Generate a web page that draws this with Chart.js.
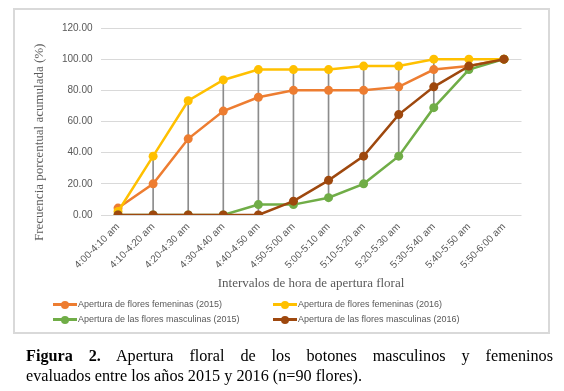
<!DOCTYPE html>
<html>
<head>
<meta charset="utf-8">
<script src="https://cdn.jsdelivr.net/npm/chart.js@4.4.0/dist/chart.umd.min.js"></script>
<style>
  html, body { margin:0; padding:0; background:#fff; }
  body { width:564px; height:391px; position:relative; overflow:hidden; }
  #frame { position:absolute; left:13px; top:8px; width:533px; height:322px; border:2px solid #d9d9d9; box-sizing:content-box; }
  #c { position:absolute; left:0; top:0; }
  #ytitle { position:absolute; left:31px; top:32px; width:16px; height:220px; writing-mode:vertical-rl; transform:rotate(180deg); text-align:center; white-space:nowrap; font-family:"Liberation Serif", "Times New Roman", serif; font-size:13px; font-weight:normal; color:#595959; line-height:16px; }
  .leg { position:absolute; font-family:"Liberation Sans", Arial, sans-serif; font-size:9px; color:#595959; white-space:nowrap; display:flex; align-items:center; height:12px; }
  .leg .mk { position:relative; width:24px; height:12px; margin-right:1px; }
  .leg .mk .ln { position:absolute; left:0; right:0; top:5px; height:2.5px; }
  .leg .mk .dt { position:absolute; left:8px; top:2.5px; width:8px; height:8px; border-radius:50%; }
  .cap { position:absolute; left:26px; width:527px; font-family:"Liberation Serif", "Times New Roman", serif; font-size:16.2px; line-height:20px; color:#000; white-space:nowrap; }
  #cap1 { top:346px; text-align:justify; text-align-last:justify; white-space:normal; }
  #cap2 { top:366px; text-align:left; }
</style>
</head>
<body>
<div id="frame"></div>
<canvas id="c" width="564" height="391"></canvas>
<div id="ytitle">Frecuencia porcentual acumulada (%)</div>
<div id="legend"></div>
<div class="cap" id="cap1"><b>Figura 2.</b> Apertura floral de los botones masculinos y femeninos</div>
<div class="cap" id="cap2">evaluados entre los años 2015 y 2016 (n=90 flores).</div>
<script>
const categories = ["4:00-4:10 am","4:10-4:20 am","4:20-4:30 am","4:30-4:40 am","4:40-4:50 am","4:50-5:00 am","5:00-5:10 am","5:10-5:20 am","5:20-5:30 am","5:30-5:40 am","5:40-5:50 am","5:50-6:00 am"];
const femeninas2015 = [4.44, 20.00, 48.89, 66.67, 75.56, 80.00, 80.00, 80.00, 82.22, 93.33, 95.56, 100.00];
const femeninas2016 = [2.22, 37.78, 73.33, 86.67, 93.33, 93.33, 93.33, 95.56, 95.56, 100.00, 100.00, 100.00];
const masculinas2015 = [0.00, 0.00, 0.00, 0.00, 6.67, 6.67, 11.11, 20.00, 37.78, 68.89, 93.33, 100.00];
const masculinas2016 = [0.00, 0.00, 0.00, 0.00, 0.00, 8.89, 22.22, 37.78, 64.44, 82.22, 95.56, 100.00];
const seriesNames = ["Apertura de flores femeninas (2015)", "Apertura de flores femeninas (2016)", "Apertura de las flores masculinas (2015)", "Apertura de las flores masculinas (2016)"];
const seriesColors = ["#ED7D31", "#FFC000", "#70AD47", "#9E480E"];
const yTicks = [0, 20, 40, 60, 80, 100, 120];

const allSeries = [femeninas2015, femeninas2016, masculinas2015, masculinas2016];
const hiLow = categories.map((_, i) => {
  const vals = allSeries.map(s => s[i]);
  return [Math.min(...vals), Math.max(...vals)];
});

const lineDs = allSeries.map((d, k) => ({
  type: 'line',
  label: seriesNames[k],
  data: d,
  borderColor: seriesColors[k],
  backgroundColor: seriesColors[k],
  pointBackgroundColor: seriesColors[k],
  pointBorderColor: seriesColors[k],
  borderWidth: 2.5,
  pointRadius: 4.5,
  pointBorderWidth: 0,
  tension: 0,
  order: 4 - k
}));

const serif = '"Liberation Serif", "Times New Roman", serif';
const sans = '"Liberation Sans", Arial, sans-serif';

new Chart(document.getElementById('c'), {
  data: {
    labels: categories,
    datasets: [
      { type: 'bar', label: 'hl', data: hiLow, backgroundColor: '#8c8c8c', barThickness: 1, order: 10 },
      ...lineDs
    ]
  },
  options: {
    responsive: false,
    animation: false,
    devicePixelRatio: 1,
    layout: { padding: { left: 26, right: 42.5, top: 28, bottom: 96 } },
    plugins: { legend: { display: false }, tooltip: { enabled: false } },
    scales: {
      x: {
        type: 'category',
        offset: true,
        grid: { display: false, drawTicks: false },
        border: { display: false },
        ticks: { autoSkip: false, maxRotation: 45, minRotation: 45, padding: 6, color: '#595959', font: { family: sans, size: 10 } },
        title: { display: true, text: 'Intervalos de hora de apertura floral', color: '#595959', font: { family: serif, size: 13 }, padding: { top: 4, bottom: 4 } },
        afterFit: (s) => { s.height = 80; }
      },
      y: {
        min: 0, max: 120,
        afterBuildTicks: (s) => { s.ticks = yTicks.map(v => ({ value: v })); },
        grid: { color: '#d9d9d9', lineWidth: 1, drawTicks: false },
        border: { display: false },
        ticks: { padding: 8, color: '#595959', font: { family: sans, size: 10 }, callback: (v) => Number(v).toFixed(2) },
        title: { display: false },
        afterFit: (s) => { s.width = 74.5; }
      }
    }
  }
});

// HTML legend
const legPos = [[53, 298], [273, 298], [53, 313], [273, 313]];
const legend = document.getElementById('legend');
seriesNames.forEach((n, k) => {
  const el = document.createElement('div');
  el.className = 'leg';
  el.style.left = legPos[k][0] + 'px';
  el.style.top = legPos[k][1] + 'px';
  el.innerHTML = '<div class="mk"><div class="ln" style="background:' + seriesColors[k] + '"></div><div class="dt" style="background:' + seriesColors[k] + '"></div></div><span>' + n + '</span>';
  legend.appendChild(el);
});
</script>
</body>
</html>
